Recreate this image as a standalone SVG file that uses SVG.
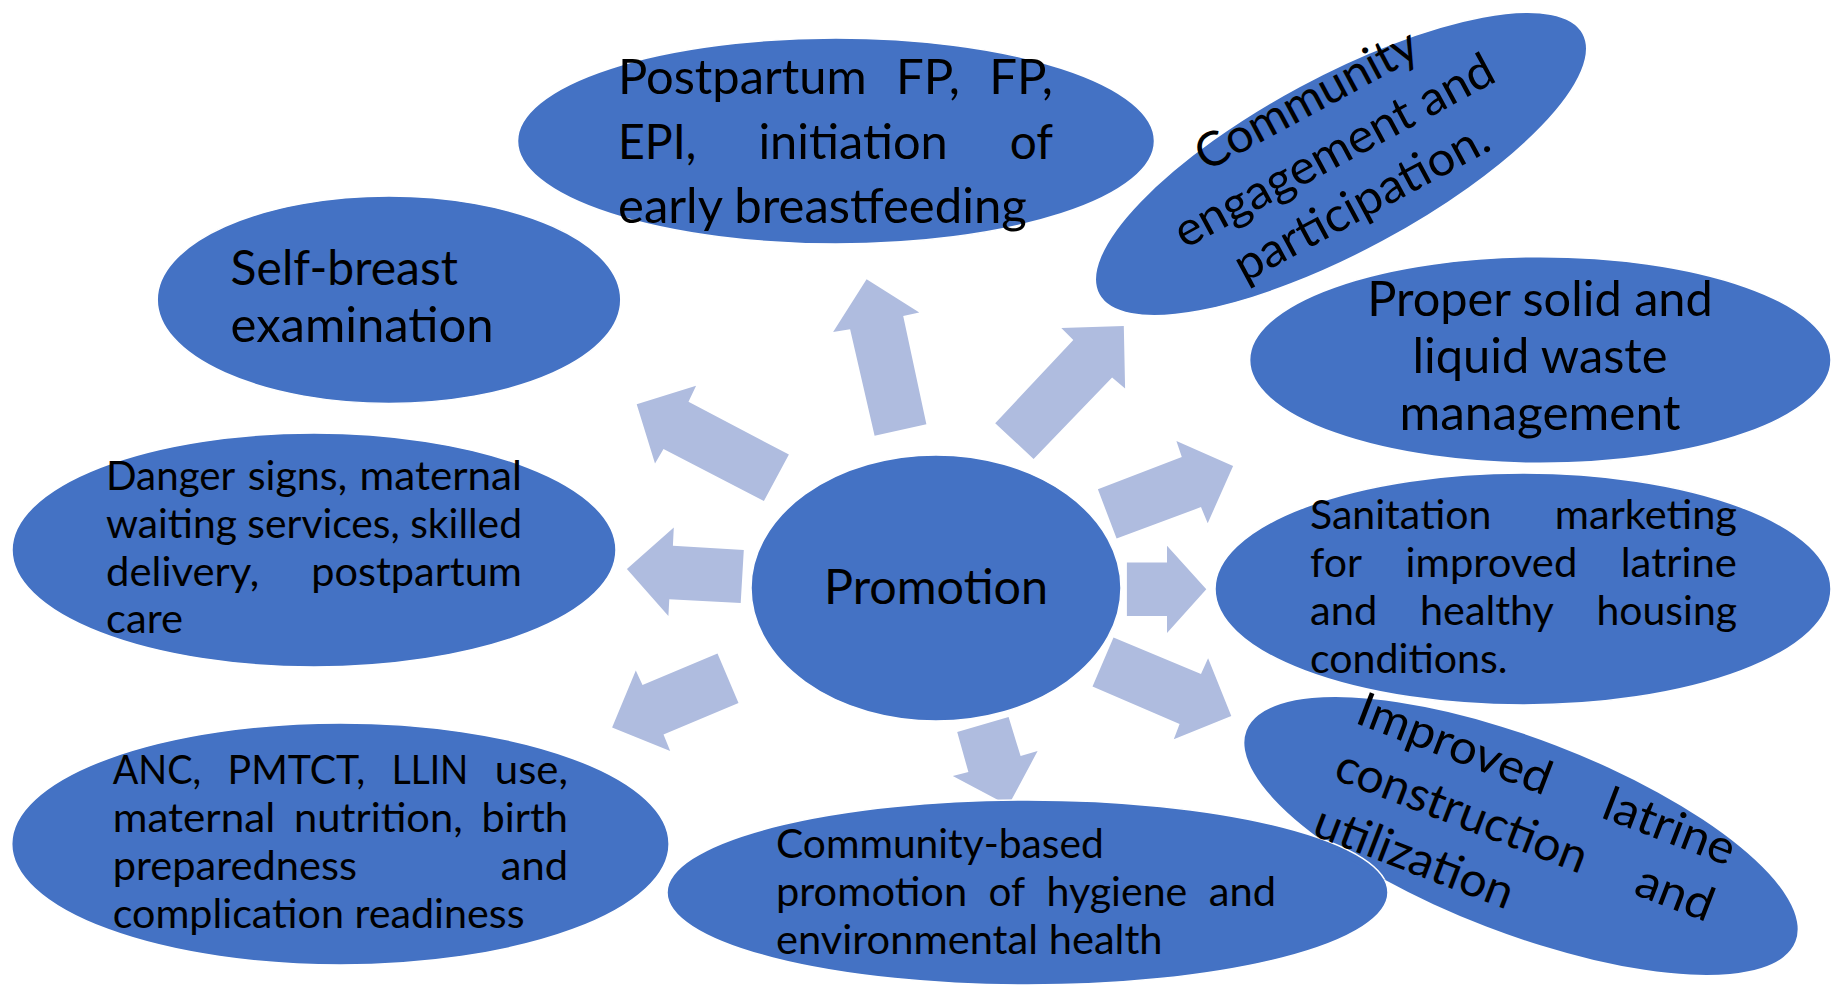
<svg xmlns="http://www.w3.org/2000/svg" width="1843" height="986" viewBox="0 0 1843 986">
<style>
.node{fill:#4472C4;stroke:#ffffff;stroke-width:1.5}
.arrow{fill:#AFBCDF}
.t{font-family:Lato,"Liberation Sans",sans-serif;fill:#000000}
.l{font-size:47.5px}
.s{font-size:40px}
</style>
<defs>
<ellipse id="n6shape" cx="1027.5" cy="892.5" rx="360.5" ry="92.5"/>
<clipPath id="clipN10"><ellipse transform="translate(1521 836) rotate(21)" rx="294" ry="97"/></clipPath>
</defs>
<rect width="1843" height="986" fill="#ffffff"/>
<g id="connectors">
<polygon class="arrow" points="866.6,279.3 919.3,312.5 903.2,316.1 926.4,424.3 874.6,435.7 850.1,329.3 833.1,332.1"/>
<polygon class="arrow" points="1123.8,326.1 1125.1,388.6 1112.1,377.5 1033.6,458.9 995.2,423.2 1073.3,340 1061.3,327.9"/>
<polygon class="arrow" points="1233.1,466.1 1207.7,523.2 1201,507.1 1116.6,538.6 1097.9,489.3 1181.8,457.1 1176.4,441.1"/>
<polygon class="arrow" points="1206.3,589.3 1167,632.9 1167,616.1 1126.9,616.1 1126.9,562.5 1167,562.5 1167,545.7"/>
<polygon class="arrow" points="1231.3,716.1 1173.8,739.3 1179.6,723.9 1092.5,686.4 1113.5,637.5 1201,673.9 1208.1,658.2"/>
<polygon class="arrow" points="1008.4,805.6 952.8,776.1 968.4,772.1 957.2,732.1 1008.6,717.1 1020.6,756.1 1037.6,751.1"/>
<polygon class="arrow" points="612.1,727.5 635.8,670.4 642.5,685 717.5,653.6 738.5,702.9 663.5,734.6 670.2,751.1"/>
<polygon class="arrow" points="626.9,568.9 673.8,527.5 672.9,545.7 743.8,550 740.7,602.9 669.3,599.3 668.4,616.1"/>
<polygon class="arrow" points="636.7,404.3 696.1,385.7 688.5,401.8 788.9,454.6 763.9,501.1 663.5,448.9 655,463.6"/>
</g>
<g id="promotion">
<ellipse class="node" cx="936" cy="588" rx="185" ry="133"/>
<text class="t l" x="824" y="604" textLength="224" lengthAdjust="spacingAndGlyphs">Promotion</text>
</g>
<g id="postpartum-fp">
<ellipse class="node" cx="836" cy="141" rx="318.5" ry="103"/>
<text class="t l" x="618" y="94" textLength="248.7" lengthAdjust="spacingAndGlyphs">Postpartum</text>
<text class="t l" x="896" y="94" textLength="63.8" lengthAdjust="spacingAndGlyphs">FP,</text>
<text class="t l" x="989.2" y="94" textLength="63.8" lengthAdjust="spacingAndGlyphs">FP,</text>
<text class="t l" x="618" y="158.7" textLength="78.4" lengthAdjust="spacingAndGlyphs">EPI,</text>
<text class="t l" x="758.4" y="158.7" textLength="189.4" lengthAdjust="spacingAndGlyphs">initiation</text>
<text class="t l" x="1009.7" y="158.7" textLength="43.3" lengthAdjust="spacingAndGlyphs">of</text>
<text class="t l" x="618" y="223.3" textLength="408.8" lengthAdjust="spacingAndGlyphs">early breastfeeding</text>
</g>
<g id="self-breast">
<ellipse class="node" cx="389" cy="299.7" rx="231.8" ry="103.7"/>
<text class="t l" x="230.6" y="285" textLength="227.4" lengthAdjust="spacingAndGlyphs">Self-breast</text>
<text class="t l" x="230.6" y="342" textLength="263" lengthAdjust="spacingAndGlyphs">examination</text>
</g>
<g id="danger-signs">
<ellipse class="node" cx="314" cy="550" rx="302" ry="117"/>
<text class="t s" x="106" y="490" textLength="129.2" lengthAdjust="spacingAndGlyphs">Danger</text>
<text class="t s" x="247.7" y="490" textLength="99.3" lengthAdjust="spacingAndGlyphs">signs,</text>
<text class="t s" x="359.5" y="490" textLength="162.5" lengthAdjust="spacingAndGlyphs">maternal</text>
<text class="t s" x="106" y="538" textLength="416" lengthAdjust="spacingAndGlyphs">waiting services, skilled</text>
<text class="t s" x="106" y="586" textLength="153.3" lengthAdjust="spacingAndGlyphs">delivery,</text>
<text class="t s" x="311.2" y="586" textLength="210.8" lengthAdjust="spacingAndGlyphs">postpartum</text>
<text class="t s" x="106" y="633" textLength="77" lengthAdjust="spacingAndGlyphs">care</text>
</g>
<g id="anc">
<ellipse class="node" cx="340.4" cy="844" rx="328.7" ry="121"/>
<text class="t s" x="112.7" y="784" textLength="88.4" lengthAdjust="spacingAndGlyphs">ANC,</text>
<text class="t s" x="227.6" y="784" textLength="137.7" lengthAdjust="spacingAndGlyphs">PMTCT,</text>
<text class="t s" x="391.8" y="784" textLength="76.5" lengthAdjust="spacingAndGlyphs">LLIN</text>
<text class="t s" x="494.8" y="784" textLength="73.2" lengthAdjust="spacingAndGlyphs">use,</text>
<text class="t s" x="112.7" y="832" textLength="162.5" lengthAdjust="spacingAndGlyphs">maternal</text>
<text class="t s" x="294.1" y="832" textLength="168.5" lengthAdjust="spacingAndGlyphs">nutrition,</text>
<text class="t s" x="481.6" y="832" textLength="86.4" lengthAdjust="spacingAndGlyphs">birth</text>
<text class="t s" x="112.7" y="880" textLength="244.3" lengthAdjust="spacingAndGlyphs">preparedness</text>
<text class="t s" x="500.7" y="880" textLength="67.3" lengthAdjust="spacingAndGlyphs">and</text>
<text class="t s" x="112.7" y="928" textLength="411.9" lengthAdjust="spacingAndGlyphs">complication readiness</text>
</g>
<g id="community-engagement">
<g transform="translate(1341 164) rotate(-28.3)">
<ellipse class="node" rx="275" ry="88"/>
<text class="t l" x="0" y="-57" text-anchor="middle" textLength="245.7" lengthAdjust="spacingAndGlyphs">Community</text>
<text class="t l" x="0" y="1" text-anchor="middle" textLength="356.4" lengthAdjust="spacingAndGlyphs">engagement and</text>
<text class="t l" x="0" y="59" text-anchor="middle" textLength="282.9" lengthAdjust="spacingAndGlyphs">participation.</text>
</g>
</g>
<g id="waste-management">
<ellipse class="node" cx="1540.3" cy="360" rx="290.7" ry="103.3"/>
<text class="t l" x="1367.2" y="316" textLength="345.6" lengthAdjust="spacingAndGlyphs">Proper solid and</text>
<text class="t l" x="1412.4" y="373" textLength="255.1" lengthAdjust="spacingAndGlyphs">liquid waste</text>
<text class="t l" x="1399.4" y="430" textLength="281.2" lengthAdjust="spacingAndGlyphs">management</text>
</g>
<g id="sanitation-marketing">
<ellipse class="node" cx="1523" cy="589" rx="308" ry="116"/>
<text class="t s" x="1310" y="529" textLength="181.4" lengthAdjust="spacingAndGlyphs">Sanitation</text>
<text class="t s" x="1554.8" y="529" textLength="182.2" lengthAdjust="spacingAndGlyphs">marketing</text>
<text class="t s" x="1310" y="577" textLength="52" lengthAdjust="spacingAndGlyphs">for</text>
<text class="t s" x="1405.5" y="577" textLength="171.8" lengthAdjust="spacingAndGlyphs">improved</text>
<text class="t s" x="1620.7" y="577" textLength="116.3" lengthAdjust="spacingAndGlyphs">latrine</text>
<text class="t s" x="1310" y="625" textLength="67.3" lengthAdjust="spacingAndGlyphs">and</text>
<text class="t s" x="1420" y="625" textLength="133.9" lengthAdjust="spacingAndGlyphs">healthy</text>
<text class="t s" x="1596.5" y="625" textLength="140.5" lengthAdjust="spacingAndGlyphs">housing</text>
<text class="t s" x="1310" y="673" textLength="197.5" lengthAdjust="spacingAndGlyphs">conditions.</text>
</g>
<g id="community-based-promotion">
<use href="#n6shape" class="node"/>
<text class="t s" x="776" y="858" textLength="327.8" lengthAdjust="spacingAndGlyphs">Community-based</text>
<text class="t s" x="776" y="906" textLength="191.1" lengthAdjust="spacingAndGlyphs">promotion</text>
<text class="t s" x="988.5" y="906" textLength="36.6" lengthAdjust="spacingAndGlyphs">of</text>
<text class="t s" x="1046.5" y="906" textLength="140.8" lengthAdjust="spacingAndGlyphs">hygiene</text>
<text class="t s" x="1208.7" y="906" textLength="67.3" lengthAdjust="spacingAndGlyphs">and</text>
<text class="t s" x="776" y="954" textLength="386.6" lengthAdjust="spacingAndGlyphs">environmental health</text>
</g>
<g id="improved-latrine">
<ellipse transform="translate(1521 836) rotate(21)" rx="294" ry="97" fill="#4472C4"/>
<use href="#n6shape" fill="none" stroke="#ffffff" stroke-width="1.5" clip-path="url(#clipN10)"/>
<g transform="translate(1521 836) rotate(21)">
<text class="t l" x="-197" y="-46" textLength="204.2" lengthAdjust="spacingAndGlyphs">Improved</text>
<text class="t l" x="66.5" y="-46" textLength="137.5" lengthAdjust="spacingAndGlyphs">latrine</text>
<text class="t l" x="-197" y="14" textLength="265.9" lengthAdjust="spacingAndGlyphs">construction</text>
<text class="t l" x="124.5" y="14" textLength="79.5" lengthAdjust="spacingAndGlyphs">and</text>
<text class="t l" x="-197" y="74" textLength="209.9" lengthAdjust="spacingAndGlyphs">utilization</text>
</g>
</g>
</svg>
